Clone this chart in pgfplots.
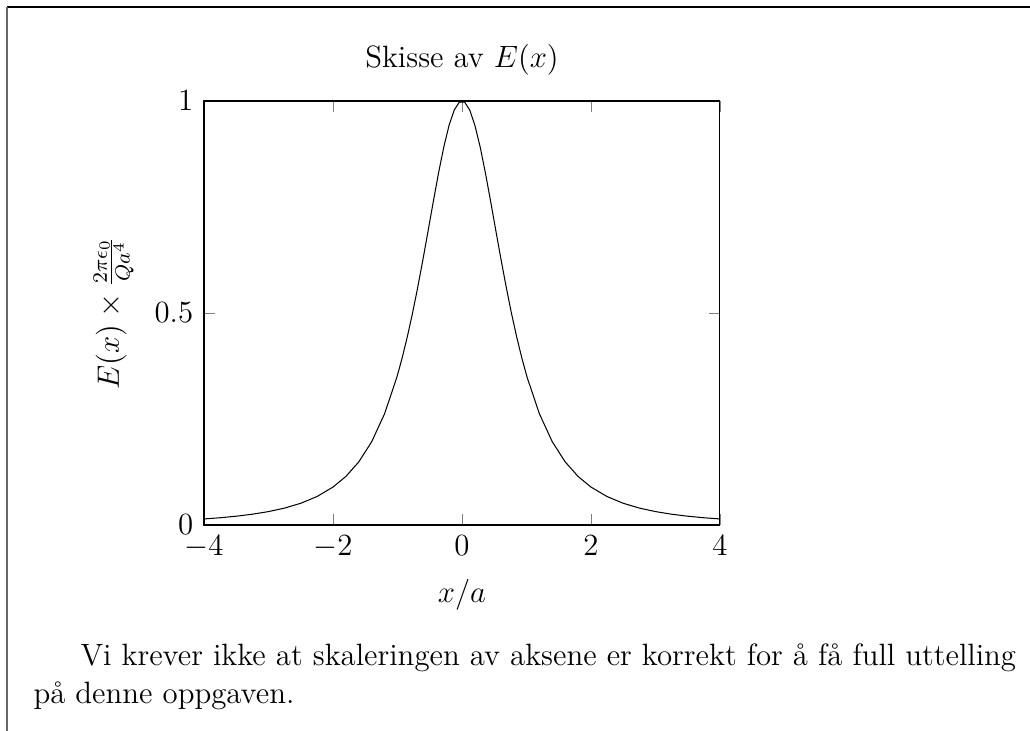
\documentclass[12pt,border=0pt]{standalone}
\usepackage{pgfplots}
\pgfplotsset{compat=1.18}
\begin{document}
\begin{tikzpicture}
\pgfmathsetmacro{\s}{1/2.57}
\path[use as bounding box] (0,0) rectangle (1030*\s pt,-731*\s pt);
\draw[line width=0.8pt] (7*\s pt,-7*\s pt) -- (1030*\s pt,-7*\s pt);
\draw[gray!80!black,line width=1pt] (7*\s pt,-7*\s pt) -- (7*\s pt,-731*\s pt);
\begin{axis}[
  at={(204*\s pt,-525*\s pt)}, anchor=south west,
  scale only axis,
  width=516*\s pt, height=424*\s pt,
  xmin=-4, xmax=4, ymin=0, ymax=1,
  xtick={-4,-2,0,2,4}, ytick={0,0.5,1},
  title={Skisse av $E(x)$},
  xlabel={$x/a$},
  ylabel={$E(x)\times\frac{2\pi\epsilon_0}{Qa^4}$},
]
\addplot[black] table {
x y
-4.0 0.01427
-3.75 0.01711
-3.5 0.02073
-3.25 0.02543
-3.0 0.03162
-2.75 0.03991
-2.5 0.05123
-2.25 0.06703
-2.0 0.08944
-1.8 0.11454
-1.6 0.14888
-1.4 0.19636
-1.2 0.26236
-1.0101 0.34823
-0.9293 0.39304
-0.8485 0.44331
-0.7677 0.49907
-0.6869 0.56003
-0.6061 0.62546
-0.5253 0.69386
-0.4444 0.76308
-0.3636 0.83004
-0.2828 0.89097
-0.2020 0.94176
-0.1212 0.97836
-0.0404 0.99756
0.0404 0.99756
0.1212 0.97836
0.2020 0.94176
0.2828 0.89097
0.3636 0.83004
0.4444 0.76308
0.5253 0.69386
0.6061 0.62546
0.6869 0.56003
0.7677 0.49907
0.8485 0.44331
0.9293 0.39304
1.0101 0.34823
1.2 0.26236
1.4 0.19636
1.6 0.14888
1.8 0.11454
2.0 0.08944
2.25 0.06703
2.5 0.05123
2.75 0.03991
3.0 0.03162
3.25 0.02543
3.5 0.02073
3.75 0.01711
4.0 0.01427
};
\end{axis}
\node[anchor=base west, inner sep=0pt] at (80*\s pt,-666*\s pt) {Vi krever ikke at skaleringen av aksene er korrekt for å få full uttelling};
\node[anchor=base west, inner sep=0pt] at (33*\s pt,-703*\s pt) {på denne oppgaven.};
\end{tikzpicture}
\end{document}
